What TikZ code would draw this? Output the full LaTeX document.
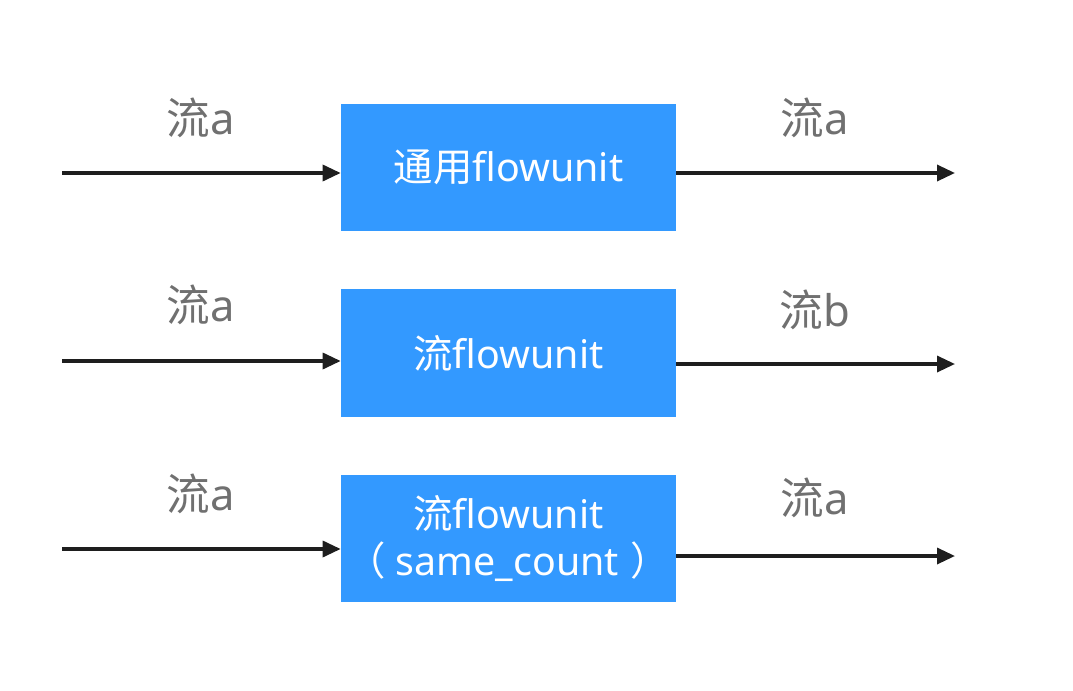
\documentclass[tikz,border=0pt]{standalone}
\usepackage{fontspec}
\setmainfont{Noto Sans}
\newfontfamily\cjk{Noto Sans CJK SC}
\usepackage{tikz}
\usetikzlibrary{arrows.meta, positioning}
\definecolor{unitblue}{RGB}{51,153,255}
\definecolor{labelgray}{RGB}{112,112,112}
\definecolor{linedark}{RGB}{30,30,30}

\begin{document}
\begin{tikzpicture}[x=0.025cm, y=-0.025cm,
    unit/.style={fill=unitblue, text=white, minimum width=8.375cm, minimum height=3.175cm,
      inner sep=0pt, align=center, font=\fontsize{28}{33}\selectfont},
    flowlabel/.style={text=labelgray, inner sep=0pt, font=\fontsize{31}{36}\selectfont},
    flow/.style={draw=linedark, line width=2.4pt, -{Triangle[length=0.45cm,width=0.4cm]}}]
                \useasboundingbox (0,0) rectangle (1073,691);
                % Units
                \node[unit] (u1) at (508.5,167.5) {{\cjk 通用}flowunit};
                \node[unit] (u2) at (508.5,353) {{\cjk 流}flowunit};
                \node[unit] (u3) at (508.5,538.5) {{\cjk 流}flowunit\\{\cjk （}\hspace{0.25em}same\_count\hspace{0.3em}{\cjk ）}};
                % Free ends
                \coordinate (in1) at (62,173);
                \coordinate (in2) at (62,361);
                \coordinate (in3) at (62,549);
                \coordinate (out1) at (955,173);
                \coordinate (out2) at (955,364);
                \coordinate (out3) at (955,556);
                % Arrows
                \draw[flow] (in1) -- (in1 -| u1.west);
                \draw[flow] (in2) -- (in2 -| u2.west);
                \draw[flow] (in3) -- (in3 -| u3.west);
                \draw[flow] (out1 -| u1.east) -- (out1);
                \draw[flow] (out2 -| u2.east) -- (out2);
                \draw[flow] (out3 -| u3.east) -- (out3);
                % Stream labels
                \node[flowlabel] (l1) at (201,118) {{\cjk 流}a};
                \node[flowlabel] (l2) at (201,305) {{\cjk 流}a};
                \node[flowlabel] (l3) at (201,494) {{\cjk 流}a};
                \node[flowlabel] (r1) at (815,118) {{\cjk 流}a};
                \node[flowlabel] (r2) at (815,310) {{\cjk 流}b};
                \node[flowlabel] (r3) at (815,498) {{\cjk 流}a};
\end{tikzpicture}
\end{document}
